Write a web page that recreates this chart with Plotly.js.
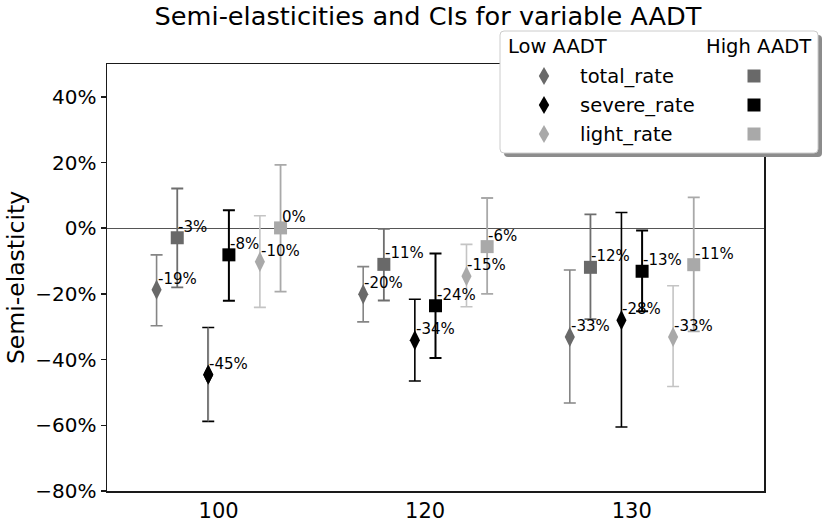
<!DOCTYPE html>
<html>
<head>
<meta charset="utf-8">
<script src="https://cdn.plot.ly/plotly-3.0.1.min.js"></script>
<style>html,body{margin:0;padding:0;background:#fff;}#chart{width:822px;height:527px;}</style>
</head>
<body>
<div id="chart"></div>
<script>
// ---- data (percent) ----
const categories = ['100', '120', '130'];
const yTickValues = [-80, -60, -40, -20, 0, 20, 40];

const totalLow      = [-18.7, -20.1, -33.1];
const totalLowLo    = [-29.7, -28.5, -53.2];
const totalLowHi    = [-8.1, -11.7, -12.7];
const totalLowText  = ['-19%', '-20%', '-33%'];

const totalHigh     = [-2.9, -11.0, -11.9];
const totalHighLo   = [-18.0, -22.0, -27.7];
const totalHighHi   = [12.1, -0.2, 4.2];
const totalHighText = ['-3%', '-11%', '-12%'];

const severeLow     = [-44.6, -34.1, -28.0];
const severeLowLo   = [-58.8, -46.5, -60.5];
const severeLowHi   = [-30.2, -21.6, 4.8];
const severeLowText = ['-45%', '-34%', '-28%'];

const severeHigh     = [-8.1, -23.6, -13.1];
const severeHighLo   = [-22.1, -39.5, -25.3];
const severeHighHi   = [5.5, -7.7, -0.7];
const severeHighText = ['-8%', '-24%', '-13%'];

const lightLow      = [-10.2, -14.6, -33.1];
const lightLowLo    = [-24.1, -23.9, -48.2];
const lightLowHi    = [3.8, -4.9, -17.5];
const lightLowText  = ['-10%', '-15%', '-33%'];

const lightHigh     = [0.1, -5.6, -11.1];
const lightHighLo   = [-19.3, -20.0, -31.4];
const lightHighHi   = [19.3, 9.2, 9.4];
const lightHighText = ['0%', '-6%', '-11%'];

// ---- styling ----
const FONT = 'DejaVu Sans, Verdana, sans-serif';
const base = categories.map((c, i) => i);

const series = [
  {y: totalLow,   lo: totalLowLo,   hi: totalLowHi,   text: totalLowText,   off: -0.30, sym: 'diamond-tall', ms: 14.5, mc: '#696969', ec: '#858585', th: 1.6},
  {y: totalHigh,  lo: totalHighLo,  hi: totalHighHi,  text: totalHighText,  off: -0.20, sym: 'square',       ms: 13,   mc: '#696969', ec: '#6e6e6e', th: 1.8},
  {y: severeLow,  lo: severeLowLo,  hi: severeLowHi,  text: severeLowText,  off: -0.05, sym: 'diamond-tall', ms: 14.5, mc: '#000000', ec: '#000000', th: 1.6},
  {y: severeHigh, lo: severeHighLo, hi: severeHighHi, text: severeHighText, off:  0.05, sym: 'square',       ms: 13,   mc: '#000000', ec: '#000000', th: 2.0},
  {y: lightLow,   lo: lightLowLo,   hi: lightLowHi,   text: lightLowText,   off:  0.20, sym: 'diamond-tall', ms: 14.5, mc: '#a9a9a9', ec: '#c4c4c4', th: 1.6},
  {y: lightHigh,  lo: lightHighLo,  hi: lightHighHi,  text: lightHighText,  off:  0.30, sym: 'square',       ms: 13,   mc: '#a9a9a9', ec: '#a9a9a9', th: 1.8}
];

const traces = [];
const annotations = [];
series.forEach((s, k) => {
  const xs = base.map(b => b + s.off);
  traces.push({
    type: 'scatter', mode: 'markers', x: xs, y: s.y, showlegend: false, hoverinfo: 'skip',
    marker: {symbol: s.sym, size: s.ms, color: s.mc, line: {width: 0}},
    error_y: {type: 'data', symmetric: false,
      array: s.y.map((v, i) => s.hi[i] - v),
      arrayminus: s.y.map((v, i) => v - s.lo[i]),
      color: s.ec, thickness: s.th, width: 6}
  });
  if (k === 2) {
    // first severe_rate (low) bar drawn with a gray stem
    traces.push({
      type: 'scatter', mode: 'markers', x: xs.slice(0, 1), y: s.y.slice(0, 1), showlegend: false, hoverinfo: 'skip',
      marker: {symbol: s.sym, size: s.ms, color: s.mc, line: {width: 0}},
      error_y: {type: 'data', symmetric: false,
        array: [s.hi[0] - s.y[0]], arrayminus: [s.y[0] - s.lo[0]],
        color: '#808080', thickness: 1.6, width: 0}
    });
  }
  xs.forEach((x, i) => {
    annotations.push({
      x: x, y: s.y[i], xref: 'x', yref: 'y', text: s.text[i], showarrow: false,
      xanchor: 'left', yanchor: 'bottom', xshift: 0, yshift: 1, borderpad: 0,
      font: {family: FONT, size: 15, color: '#000'}
    });
  });
});

// ---- legend (drawn manually) ----
const L = 107, R = 764, T = 64, B = 491;
const px = X => (X - L) / (R - L);
const py = Y => (B - Y) / (B - T);
function roundRect(x0, y0, x1, y1, r) {
  return `M${px(x0 + r)},${py(y0)} L${px(x1 - r)},${py(y0)} Q${px(x1)},${py(y0)} ${px(x1)},${py(y0 + r)} ` +
         `L${px(x1)},${py(y1 - r)} Q${px(x1)},${py(y1)} ${px(x1 - r)},${py(y1)} L${px(x0 + r)},${py(y1)} ` +
         `Q${px(x0)},${py(y1)} ${px(x0)},${py(y1 - r)} L${px(x0)},${py(y0 + r)} Q${px(x0)},${py(y0)} ${px(x0 + r)},${py(y0)} Z`;
}
const shapes = [];
const bx0 = 500, by0 = 31, bx1 = 818, by1 = 153;
shapes.push({type: 'path', xref: 'paper', yref: 'paper', layer: 'above', path: roundRect(bx0 + 4, by0 + 4, bx1 + 4, by1 + 4, 4), fillcolor: '#8c8c8c', line: {width: 0}});
shapes.push({type: 'path', xref: 'paper', yref: 'paper', layer: 'above', path: roundRect(bx0, by0, bx1, by1, 4), fillcolor: '#ffffff', line: {color: '#cccccc', width: 1}});

const legendRows = ['total_rate', 'severe_rate', 'light_rate'];
const rowY = [76, 105, 134];
const lowColors = ['#696969', '#000000', '#a9a9a9'];
legendRows.forEach((name, i) => {
  const cx = 544, cy = rowY[i];
  shapes.push({type: 'path', xref: 'paper', yref: 'paper', layer: 'above',
    path: `M${px(cx)},${py(cy - 9)} L${px(cx + 5.2)},${py(cy)} L${px(cx)},${py(cy + 9)} L${px(cx - 5.2)},${py(cy)} Z`,
    fillcolor: lowColors[i], line: {width: 0}});
  const sx = 754;
  shapes.push({type: 'rect', xref: 'paper', yref: 'paper', layer: 'above',
    x0: px(sx - 6.5), x1: px(sx + 6.5), y0: py(cy + 6.5), y1: py(cy - 6.5),
    fillcolor: lowColors[i], line: {width: 0}});
  annotations.push({xref: 'paper', yref: 'paper', x: px(579), y: py(cy), text: name, showarrow: false,
    xanchor: 'left', yanchor: 'middle', borderpad: 0, font: {family: FONT, size: 19.5, color: '#000'}});
});
annotations.push({xref: 'paper', yref: 'paper', x: px(507), y: py(47), text: 'Low AADT', showarrow: false,
  xanchor: 'left', yanchor: 'middle', borderpad: 0, font: {family: FONT, size: 19.5, color: '#000'}});
annotations.push({xref: 'paper', yref: 'paper', x: px(705), y: py(47), text: 'High AADT', showarrow: false,
  xanchor: 'left', yanchor: 'middle', borderpad: 0, font: {family: FONT, size: 19.5, color: '#000'}});

const yTickText = yTickValues.map(v => (v < 0 ? '\u2212' + Math.abs(v) : String(v)) + '%');

const layout = {
  width: 822, height: 527,
  margin: {l: L, r: 822 - R, t: T, b: 527 - B, pad: 0},
  paper_bgcolor: '#ffffff', plot_bgcolor: '#ffffff',
  showlegend: false,
  title: {text: 'Semi-elasticities and CIs for variable AADT', font: {family: FONT, size: 25.6, color: '#000'},
    x: (428 - L) / (R - L), xref: 'paper', xanchor: 'center', y: 1 - 16 / 527, yref: 'container', yanchor: 'middle'},
  xaxis: {range: [-0.54, 2.64], tickvals: base, ticktext: categories, ticks: '', showgrid: false, zeroline: false,
    showline: true, mirror: true, linecolor: '#1a1a1a', linewidth: 1.5,
    tickfont: {family: FONT, size: 21, color: '#000'}, fixedrange: true},
  yaxis: {range: [-80, 50], tickvals: yTickValues, ticktext: yTickText, ticks: 'outside', ticklen: 5, tickwidth: 1.5,
    tickcolor: '#1a1a1a', showgrid: false, zeroline: true, zerolinecolor: '#555555', zerolinewidth: 1,
    showline: true, mirror: true, linecolor: '#1a1a1a', linewidth: 1.5,
    tickfont: {family: FONT, size: 20, color: '#000'},
    title: {text: 'Semi-elasticity', font: {family: FONT, size: 23.5, color: '#000'}, standoff: 4}, fixedrange: true},
  shapes: shapes,
  annotations: annotations
};

Plotly.newPlot('chart', traces, layout, {displayModeBar: false, staticPlot: true});
</script>
</body>
</html>
